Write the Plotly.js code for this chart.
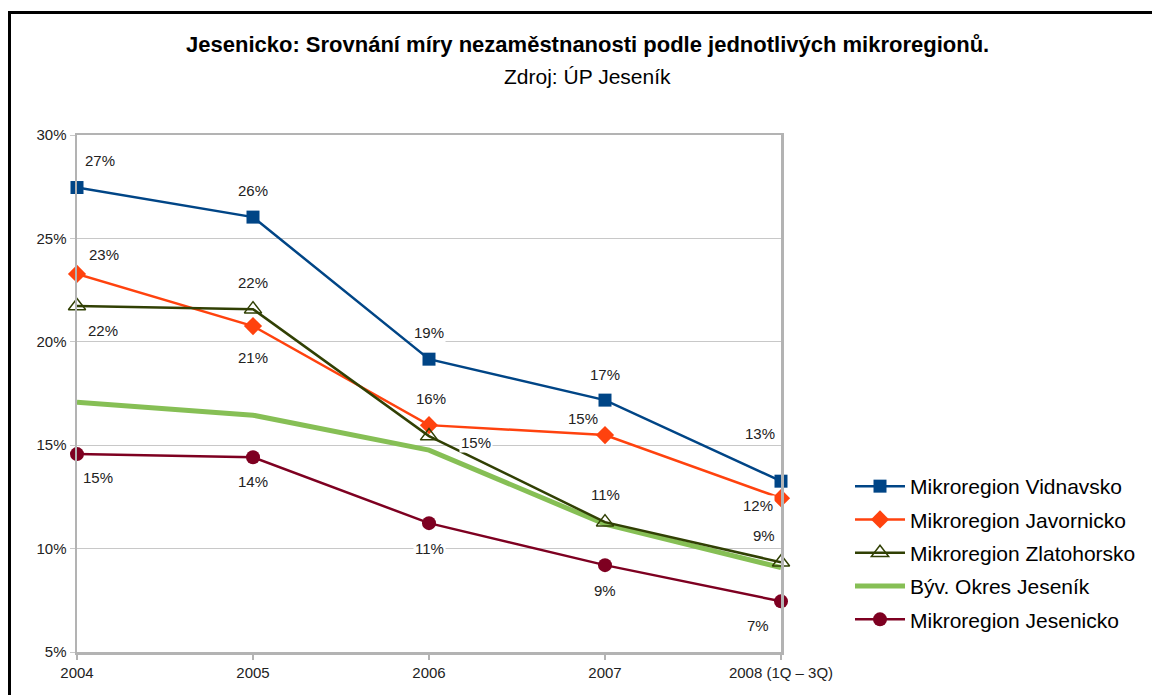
<!DOCTYPE html>
<html>
<head>
<meta charset="utf-8">
<script src="https://cdn.plot.ly/plotly-3.0.1.min.js"></script>
<style>
html,body{margin:0;padding:0;background:#fff;overflow:hidden;}
#wrap{position:relative;width:1152px;height:695px;}
#chart{position:absolute;left:0;top:0;width:1152px;height:695px;}
#frame{position:absolute;left:8px;top:11px;width:1200px;height:800px;border-left:3px solid #000;border-top:3px solid #000;pointer-events:none;}
</style>
</head>
<body>
<div id="wrap"><div id="chart"></div><div id="frame"></div></div>
<script>
// ---- data ----
const categories = ["2004", "2005", "2006", "2007", "2008 (1Q – 3Q)"];
const seriesNames = ["Mikroregion Vidnavsko", "Mikroregion Javornicko", "Mikroregion Zlatohorsko", "Býv. Okres Jeseník", "Mikroregion Jesenicko"];
const vidnavsko   = [27.46, 26.03, 19.16, 17.18, 13.26];
const javornicko  = [23.28, 20.76, 15.97, 15.49, 12.44];
const zlatohorsko = [21.73, 21.58, 15.44, 11.28, 9.34];
const okres       = [17.08, 16.45, 14.76, 11.18, 9.08];
const jesenicko   = [14.57, 14.42, 11.23, 9.20, 7.45];
const yTicks = [5, 10, 15, 20, 25, 30];

// ---- styles ----
const FONT = "Liberation Sans, Arial, sans-serif";
const seriesValues = [vidnavsko, javornicko, zlatohorsko, okres, jesenicko];
const styles = [
  {color:"#004586", width:2.5, marker:{symbol:"square", size:13, color:"#004586"}},
  {color:"#ff420e", width:2.5, marker:{symbol:"diamond", size:14, color:"#ff420e"}},
  {color:"#314004", width:2.5, marker:{symbol:"triangle-up-open", size:15, color:"#314004", line:{width:1.5}}},
  {color:"#86bf55", width:5, marker:null},
  {color:"#7e0021", width:2.5, marker:{symbol:"circle", size:14, color:"#7e0021"}}
];
// label offsets (px) per series / point: [dx, dy] (dy downward positive); null = no labels
const labelOffsets = [
  [[23,-27],[0,-27],[0,-27],[0,-26],[-21,-48]],
  [[27,-19],[0,31],[2,-27],[-22,-17],[-23,7]],
  [[26,24],[0,-27],[47,6],[0,-28],[-17,-27]],
  null,
  [[21,23],[0,24],[0,25],[0,25],[-23,24]]
];

const xIdx = categories.map((c,i)=>i);
const traces = seriesValues.map((vals, s) => {
  const st = styles[s];
  const t = {
    type:"scatter", x:xIdx, y:vals, name:seriesNames[s],
    mode: st.marker ? "lines+markers" : "lines",
    line:{color:st.color, width:st.width},
    legendgroup:"g"+s, hoverinfo:"skip", cliponaxis:false
  };
  if (st.marker) t.marker = st.marker;
  return t;
});
// draw the green district line under the others but keep legend order
const drawOrder = [3, 0, 1, 2, 4];
const orderedTraces = drawOrder.map(i => Object.assign({}, traces[i], {legendrank: i+1}));

const annotations = [];
seriesValues.forEach((vals, s) => {
  const offs = labelOffsets[s];
  if (!offs) return;
  vals.forEach((v, i) => {
    annotations.push({
      x:xIdx[i], y:v, xref:"x", yref:"y",
      text: Math.round(v) + "%", showarrow:false,
      xshift: offs[i][0], yshift: -offs[i][1],
      bgcolor:"#ffffff", borderpad:1,
      font:{family:FONT, size:15, color:"#222"}
    });
  });
});
// titles
annotations.push({
  xref:"paper", yref:"paper", x:(588-77)/705, y:(652-45)/517, xanchor:"center", yanchor:"middle",
  text:"<b>Jesenicko: Srovnání míry nezaměstnanosti podle jednotlivých mikroregionů.</b>",
  showarrow:false, font:{family:FONT, size:22, color:"#000"}
});
annotations.push({
  xref:"paper", yref:"paper", x:(588-77)/705, y:(652-76)/517, xanchor:"center", yanchor:"middle",
  text:"Zdroj: ÚP Jeseník",
  showarrow:false, font:{family:FONT, size:21, color:"#000"}
});

const layout = {
  width:1152, height:695,
  margin:{l:77, r:370, t:135, b:43, pad:0},
  paper_bgcolor:"#fff", plot_bgcolor:"#fff",
  font:{family:FONT, color:"#222"},
  showlegend:true,
  legend:{x:(850-77)/705, xanchor:"left", y:(652-553)/517, yanchor:"middle",
          font:{size:21, color:"#000"}, tracegroupgap:3, itemwidth:50, bgcolor:"rgba(0,0,0,0)"},
  xaxis:{
    range:[0,4], tickvals:xIdx, ticktext:categories, showgrid:false, zeroline:false,
    showline:true, mirror:true, linecolor:"#b3b3b3", linewidth:2.5,
    ticks:"outside", ticklen:5, tickcolor:"#b3b3b3", tickwidth:1.5,
    tickfont:{size:15, color:"#222"}, fixedrange:true
  },
  yaxis:{
    range:[5,30], tickvals:yTicks, ticktext:yTicks.map(v=>v+"%"),
    showgrid:true, gridcolor:"#c8c8c8", gridwidth:1, zeroline:false,
    showline:true, mirror:true, linecolor:"#b3b3b3", linewidth:2.5,
    ticks:"outside", ticklen:5, tickcolor:"#c8c8c8",
    tickfont:{size:15, color:"#222"}, fixedrange:true
  },
  annotations:annotations
};
Plotly.newPlot("chart", orderedTraces, layout, {staticPlot:true, displayModeBar:false});
</script>
</body>
</html>
